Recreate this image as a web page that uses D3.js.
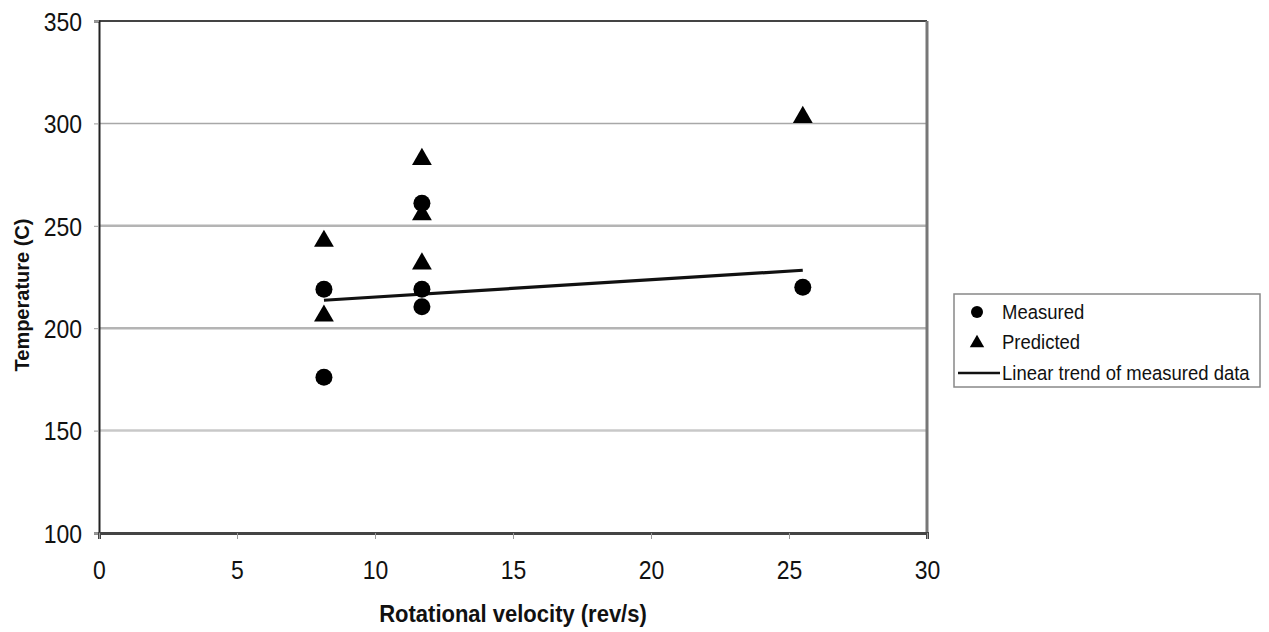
<!DOCTYPE html>
<html><head><meta charset="utf-8">
<script src="https://cdn.jsdelivr.net/npm/d3@7"></script>
<style>body{margin:0;background:#fff}svg{display:block}text{font-family:"Liberation Sans",Arial,sans-serif}</style>
</head><body><svg id="c" width="1269" height="632"></svg>
<script>
const measuredX = [8.15, 8.15, 11.7, 11.7, 11.7, 25.5];
const measuredY = [219, 176, 261, 219, 210.5, 220];
const predictedX = [8.15, 8.15, 11.7, 11.7, 11.7, 25.5];
const predictedY = [243, 206.5, 283, 256, 232, 303.5];
const xTicks = [0, 5, 10, 15, 20, 25, 30];
const yTicks = [100, 150, 200, 250, 300, 350];
const legendLabels = ["Measured", "Predicted", "Linear trend of measured data"];

const svg = d3.select("#c");
const x = d3.scaleLinear().domain([0, 30]).range([99, 927]);
const y = d3.scaleLinear().domain([100, 350]).range([533, 21]);

// gridlines
svg.append("g").selectAll("line").data(yTicks.filter(d => d > 100 && d < 350)).join("line")
  .attr("x1", x(0)).attr("x2", x(30)).attr("y1", d => y(d)).attr("y2", d => y(d))
  .attr("stroke", d => d === 150 ? "#c8c8c8" : (d === 300 ? "#a8a8a8" : "#b4b4b4"))
  .attr("stroke-width", d => d === 300 ? 1.5 : 2.5);

// frame top/right
svg.append("line").attr("x1", x(0)).attr("x2", x(30)).attr("y1", y(350)).attr("y2", y(350)).attr("stroke", "#444").attr("stroke-width", 2);
svg.append("line").attr("x1", x(30)).attr("x2", x(30)).attr("y1", y(350)).attr("y2", y(100)).attr("stroke", "#777").attr("stroke-width", 3);

// axes
const yAxis = svg.append("g").attr("transform", `translate(${x(0)},0)`)
  .call(d3.axisLeft(y).tickValues(yTicks).tickSize(5).tickPadding(12));
yAxis.select(".domain").attr("stroke", "#222").attr("stroke-width", 2);
yAxis.selectAll(".tick line").attr("stroke", "#999");
yAxis.selectAll(".tick text").attr("font-size", 23).attr("fill", "#111")
  .attr("font-family", '"Liberation Sans",Arial,sans-serif').attr("dy", "0.36em")
  .attr("transform", "scale(1,1.12)");

const xAxis = svg.append("g").attr("transform", `translate(0,${y(100)})`)
  .call(d3.axisBottom(x).tickValues(xTicks).tickSize(6).tickPadding(0));
xAxis.select(".domain").attr("stroke", "#444").attr("stroke-width", 3);
xAxis.selectAll(".tick line").attr("stroke", "#999");
xAxis.selectAll(".tick text").attr("font-size", 23).attr("fill", "#111")
  .attr("font-family", '"Liberation Sans",Arial,sans-serif').attr("y", 0).attr("dy", 0)
  .attr("transform", "translate(0,46) scale(1,1.12)");

// trend line (least squares of measured data)
const mx = d3.mean(measuredX), my = d3.mean(measuredY);
const slope = d3.sum(measuredX, (v, i) => (v - mx) * (measuredY[i] - my)) / d3.sum(measuredX, v => (v - mx) ** 2);
const x0 = d3.min(measuredX), x1 = d3.max(measuredX);
svg.append("line").attr("x1", x(x0)).attr("x2", x(x1))
  .attr("y1", y(my + slope * (x0 - mx))).attr("y2", y(my + slope * (x1 - mx)))
  .attr("stroke", "#111").attr("stroke-width", 3.2);

// points
const tri = d3.symbol().type(d3.symbolTriangle).size(170);
svg.append("g").selectAll("path").data(predictedX.map((v, i) => [v, predictedY[i]])).join("path")
  .attr("d", tri).attr("transform", d => `translate(${x(d[0])},${y(d[1]) + 1})`).attr("fill", "#000");
svg.append("g").selectAll("circle").data(measuredX.map((v, i) => [v, measuredY[i]])).join("circle")
  .attr("cx", d => x(d[0])).attr("cy", d => y(d[1])).attr("r", 8.5).attr("fill", "#000");

// axis titles
svg.append("text").attr("transform", "translate(513,622) scale(1,1.1)").attr("text-anchor", "middle")
  .attr("font-size", 22).attr("font-weight", "bold").attr("fill", "#111").text("Rotational velocity (rev/s)");
svg.append("text").attr("transform", "translate(29,295) rotate(-90) scale(1,1.05)").attr("text-anchor", "middle")
  .attr("font-size", 20).attr("font-weight", "bold").attr("fill", "#111").text("Temperature (C)");

// legend
const lg = svg.append("g");
lg.append("rect").attr("x", 954).attr("y", 294).attr("width", 306).attr("height", 93)
  .attr("fill", "#fff").attr("stroke", "#888").attr("stroke-width", 1.5);
const rows = [312, 342, 373];
lg.append("circle").attr("cx", 977).attr("cy", rows[0]).attr("r", 6).attr("fill", "#000");
lg.append("path").attr("d", d3.symbol().type(d3.symbolTriangle).size(90)).attr("transform", `translate(977,${rows[1] + 1})`).attr("fill", "#000");
lg.append("line").attr("x1", 958).attr("x2", 1000).attr("y1", rows[2]).attr("y2", rows[2]).attr("stroke", "#111").attr("stroke-width", 2.5);
lg.selectAll("text").data(legendLabels).join("text")
  .attr("transform", (d, i) => `translate(1002,${rows[i] + 7}) scale(1,1.12)`)
  .attr("font-size", 18.5).attr("fill", "#111").text(d => d);
</script></body></html>
